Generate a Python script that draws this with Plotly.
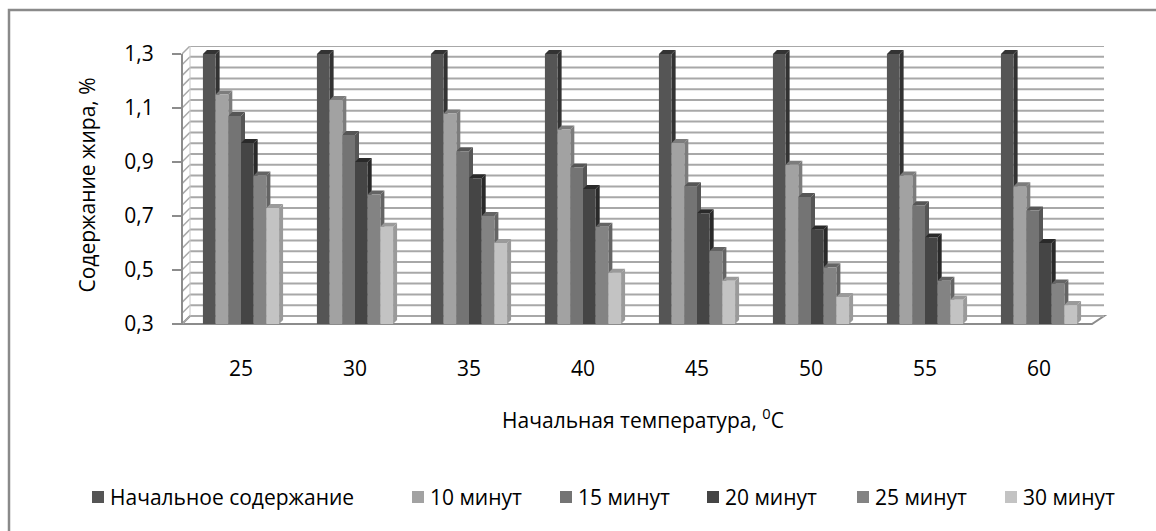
import plotly.graph_objects as go

# Fat content (%) after separation at different starting temperatures
temperatures = ["25", "30", "35", "40", "45", "50", "55", "60"]
series_names = ["Начальное содержание", "10 минут", "15 минут", "20 минут", "25 минут", "30 минут"]
initial = [1.30, 1.30, 1.30, 1.30, 1.30, 1.30, 1.30, 1.30]
min10 = [1.15, 1.13, 1.08, 1.02, 0.97, 0.89, 0.85, 0.81]
min15 = [1.07, 1.00, 0.94, 0.88, 0.81, 0.77, 0.74, 0.72]
min20 = [0.97, 0.90, 0.84, 0.80, 0.71, 0.65, 0.62, 0.60]
min25 = [0.85, 0.78, 0.70, 0.66, 0.57, 0.51, 0.46, 0.45]
min30 = [0.73, 0.66, 0.60, 0.49, 0.46, 0.40, 0.39, 0.37]
series_values = [initial, min10, min15, min20, min25, min30]
y_ticks = [0.3, 0.5, 0.7, 0.9, 1.1, 1.3]

# Face colours: front, side/top
front_colors = ["#555555", "#a2a2a2", "#747474", "#454545", "#838383", "#c3c3c3"]
side_colors = ["#333333", "#7c7c7c", "#565656", "#2a2a2a", "#646464", "#9a9a9a"]

W, H = 1156, 531
L, R, T, B = 182, 52, 46, 207
PW, PH = W - L - R, H - T - B
Y0 = 0.3
PX_PER_Y = 270.0
DEPTH = 8  # wall depth in px
Y1 = 1.3 + DEPTH / PX_PER_Y
PX_PER_X = 114.0
X0 = -0.5 - 2 / PX_PER_X
X1 = X0 + PW / PX_PER_X
GROUP = 0.668
BAR_W = GROUP / len(series_names)
BAR_DX = 4 / PX_PER_X
BAR_DY = 4 / PX_PER_Y
FONT = "Open Sans"
FS = 21


def px_x(px):
    return (px - L) / PW


def px_y(py):
    return (H - B - py) / PH


fig = go.Figure()
xs = list(range(len(temperatures)))
for j, (name, vals) in enumerate(zip(series_names, series_values)):
    fig.add_trace(go.Bar(
        x=xs, y=[v - Y0 for v in vals], base=Y0, name=name,
        marker=dict(color=front_colors[j], line=dict(width=0)),
        showlegend=False,
    ))

shapes = []
GRID = "#a8a8a8"
AX = "#8c8c8c"
dpx = DEPTH / PW
dval = DEPTH / PX_PER_Y

# floor
shapes.append(dict(type="path", xref="paper", yref="paper", layer="below",
                   path=f"M 0 0 L {px_x(1092)} 0 L {px_x(1104)} {px_y(316)} L {dpx} {px_y(316)} Z",
                   fillcolor="white", line=dict(color=AX, width=2)))
# back wall gridlines and left wall
n_lines = 26
for k in range(n_lines):
    v = round(0.3 + 0.04 * k, 3)
    shapes.append(dict(type="line", xref="paper", yref="y", layer="below",
                       x0=dpx, x1=1, y0=v + dval, y1=v + dval,
                       line=dict(color=GRID, width=2)))
    shapes.append(dict(type="line", xref="paper", yref="y", layer="below",
                       x0=0, x1=dpx, y0=v, y1=v + dval,
                       line=dict(color=GRID, width=1.5)))
shapes.append(dict(type="line", xref="paper", yref="y", layer="below",
                   x0=0, x1=0, y0=0.3, y1=1.3, line=dict(color=AX, width=2)))
shapes.append(dict(type="line", xref="paper", yref="y", layer="below",
                   x0=dpx, x1=dpx, y0=0.3 + dval, y1=1.3 + dval, line=dict(color="#c8c8c8", width=1)))

# bar side and top faces
for j, vals in enumerate(series_values):
    for i, v in enumerate(vals):
        xl = i - GROUP / 2 + j * BAR_W
        xr = xl + BAR_W
        shapes.append(dict(type="path", xref="x", yref="y", layer="below",
                           path=(f"M {xr} {Y0} L {xr} {v} L {xr + BAR_DX} {v + BAR_DY} "
                                 f"L {xr + BAR_DX} {Y0 + BAR_DY} Z"),
                           fillcolor=side_colors[j], line=dict(width=0)))
        shapes.append(dict(type="path", xref="x", yref="y", layer="below",
                           path=(f"M {xl} {v} L {xr} {v} L {xr + BAR_DX} {v + BAR_DY} "
                                 f"L {xl + BAR_DX} {v + BAR_DY} Z"),
                           fillcolor=side_colors[j], line=dict(width=0)))

# outer chart frame
shapes.append(dict(type="rect", xref="paper", yref="paper", layer="above",
                   x0=px_x(9), x1=px_x(1170), y0=px_y(10), y1=px_y(545),
                   line=dict(color="#8a8a8a", width=2.5), fillcolor="rgba(0,0,0,0)"))

# custom legend
annotations = []
legend_x = [92, 412, 560, 707, 857, 1005]
for j, name in enumerate(series_names):
    x = legend_x[j]
    shapes.append(dict(type="rect", xref="paper", yref="paper",
                       x0=px_x(x), x1=px_x(x + 12), y0=px_y(503), y1=px_y(491),
                       fillcolor=front_colors[j], line=dict(width=0)))
    annotations.append(dict(xref="paper", yref="paper", x=px_x(x + 16), y=px_y(497),
                            xanchor="left", yanchor="middle", showarrow=False,
                            text=name, font=dict(family=FONT, size=FS, color="#000")))

fig.update_layout(
    width=W, height=H, autosize=False,
    margin=dict(l=L, r=R, t=T, b=B, pad=0),
    paper_bgcolor="white", plot_bgcolor="white",
    barmode="group", bargap=1 - GROUP, bargroupgap=0,
    separators=", ",
    font=dict(family=FONT, size=FS, color="#000"),
    shapes=shapes, annotations=annotations,
    xaxis=dict(range=[X0, X1], tickvals=xs, ticktext=temperatures, showgrid=False,
               zeroline=False, showline=False, ticks="", ticklabelstandoff=30,
               tickfont=dict(size=FS),
               title=dict(text="Начальная температура, <sup>0</sup>C", standoff=32,
                          font=dict(size=FS))),
    yaxis=dict(range=[Y0, Y1], tickvals=y_ticks, tickformat=".1f", showgrid=False,
               zeroline=False, showline=False, ticks="outside", ticklen=9, tickwidth=2,
               tickcolor=AX, ticklabelstandoff=14, tickfont=dict(size=FS),
               title=dict(text="Содержание жира, %", standoff=22, font=dict(size=FS))),
)

fig.write_html("out.html")
